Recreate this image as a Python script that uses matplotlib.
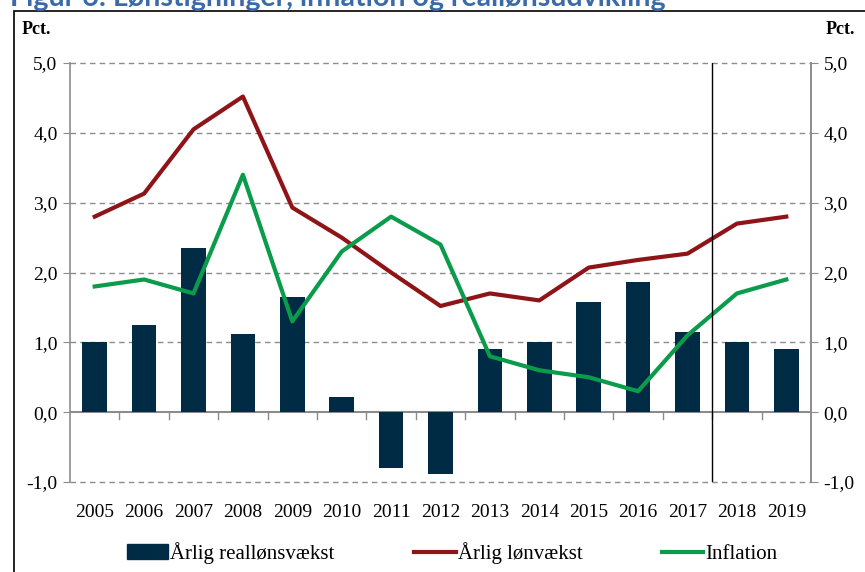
import matplotlib
matplotlib.use("Agg")
import matplotlib.pyplot as plt
from matplotlib.patches import Rectangle
from matplotlib.lines import Line2D
from matplotlib.ticker import FuncFormatter

years = list(range(2005, 2020))
real_growth = [1.0, 1.25, 2.35, 1.12, 1.65, 0.22, -0.8, -0.88, 0.9, 1.0, 1.58, 1.87, 1.15, 1.0, 0.9]
wage_growth = [2.8, 3.13, 4.05, 4.52, 2.93, 2.5, 2.0, 1.52, 1.7, 1.6, 2.07, 2.18, 2.27, 2.7, 2.8]
inflation = [1.8, 1.9, 1.7, 3.4, 1.3, 2.3, 2.8, 2.4, 0.8, 0.6, 0.5, 0.3, 1.1, 1.7, 1.9]
forecast_from = 2017.5

navy = "#002B45"
red = "#8E1418"
green = "#0A9B4B"
grey = "#8C8C8C"

plt.rcParams["font.family"] = ["Liberation Serif", "DejaVu Serif"]

fig = plt.figure(figsize=(8.65, 5.72), dpi=100)
ax = fig.add_axes([70 / 865, 1 - 482 / 572, 741 / 865, 419 / 572])

ax.bar(years, real_growth, width=0.5, color=navy, zorder=3)
ax.plot(years, wage_growth, color=red, lw=3, zorder=4)
ax.plot(years, inflation, color=green, lw=3, zorder=4)
ax.axvline(forecast_from, color="black", lw=1, zorder=5)

ax.set_xlim(2004.5, 2019.5)
ax.set_ylim(-1, 5)

# grid
for v in [-1, 1, 2, 3, 4, 5]:
    ax.axhline(v, color=grey, lw=1, ls=(0, (4, 3)), zorder=1, clip_on=False)
ax.axhline(0, color=grey, lw=1.5, zorder=2)

for s in ["top", "bottom"]:
    ax.spines[s].set_visible(False)
for s in ["left", "right"]:
    ax.spines[s].set_color(grey)
    ax.spines[s].set_linewidth(1.2)

fmt = FuncFormatter(lambda v, p: f"{v:.1f}".replace(".", ","))
yt = [-1, 0, 1, 2, 3, 4, 5]
ax.set_yticks(yt)
ax.yaxis.set_major_formatter(fmt)
ax.tick_params(axis="y", length=5, color=grey, labelsize=14, pad=4)

ax2 = ax.twinx()
ax2.set_ylim(-1, 5)
ax2.set_yticks(yt)
ax2.yaxis.set_major_formatter(fmt)
ax2.tick_params(axis="y", length=5, color=grey, labelsize=14, pad=4)
for s in ["top", "bottom", "left"]:
    ax2.spines[s].set_visible(False)
ax2.spines["right"].set_color(grey)
ax2.spines["right"].set_linewidth(1.2)

# category boundary ticks on the zero line
ax.set_xticks([])
for b in [y + 0.5 for y in years[:-1]]:
    ax.plot([b, b], [0, -0.1], color=grey, lw=1, zorder=2)

sec = ax.secondary_xaxis("bottom")
sec.set_xticks(years)
sec.set_xticklabels([str(y) for y in years])
sec.tick_params(length=0, labelsize=14, pad=16)
sec.spines["bottom"].set_visible(False)

fig.text(22 / 865, 1 - 30 / 572, "Pct.", fontsize=13, fontweight="bold", va="center")
fig.text(826 / 865, 1 - 30 / 572, "Pct.", fontsize=13, fontweight="bold", va="center")

fig.text(10 / 865, 1 - 6 / 572, "Figur 6: Lønstigninger, inflation og reallønsudvikling",
         fontsize=20.5, fontweight="bold", color="#3B6AA8", family="Lato", va="baseline")

fig.patches.append(Rectangle((14 / 865, -0.1), 1.2, 1 - 11 / 572 + 0.1,
                             transform=fig.transFigure, fill=False, ec="black", lw=1.2))

handles = [Rectangle((0, 0), 1, 1, color=navy),
           Line2D([], [], color=red, lw=3),
           Line2D([], [], color=green, lw=3)]
fig.legend(handles, ["Årlig reallønsvækst", "Årlig lønvækst", "Inflation"],
           loc="center", bbox_to_anchor=(452 / 865, 1 - 553 / 572), ncol=3,
           frameon=False, fontsize=15, handlelength=2.0, handletextpad=0.1,
           columnspacing=3.8)

fig.savefig("out.png", dpi=100)
